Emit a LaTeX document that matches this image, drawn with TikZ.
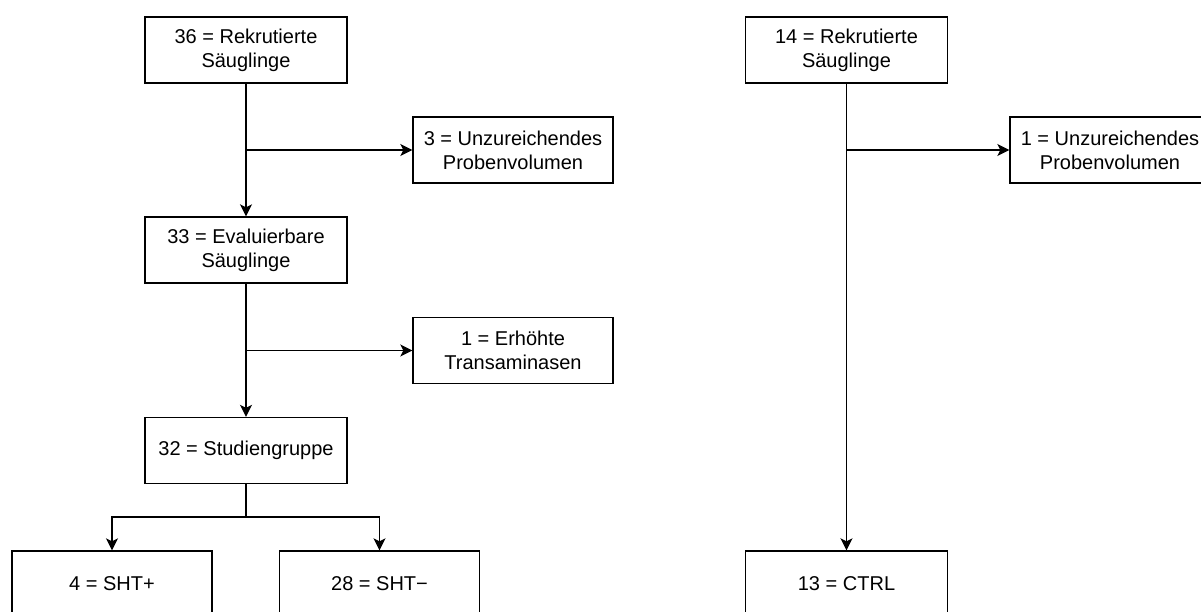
\documentclass[tikz,border=0pt]{standalone}
\usepackage{fontspec}
\setmainfont{Liberation Sans}
\usetikzlibrary{arrows.meta, positioning}
\tikzstyle{line} = [draw, line width=1.4pt, -{Stealth[length=12pt,width=12pt,inset=3pt]}]
\tikzstyle{link} = [draw, line width=1.4pt]
\tikzstyle{block} = [rectangle, draw, line width=1.4pt, text centered, align=center, minimum width=202pt, minimum height=66pt, inner sep=0pt, font=\fontsize{20}{24}\selectfont]

\begin{document}
\begin{tikzpicture}[x=1pt, y=-1pt]
\useasboundingbox (0,0) rectangle (1201,611);
% Studiengruppe
\node [block] (rekrut) at (246,50) {36 = Rekrutierte\\Säuglinge};
\node [block, minimum width=200pt] (probe) at (513,150) {3 = Unzureichendes\\Probenvolumen};
\node [block] (eval) at (246,250) {33 = Evaluierbare\\Säuglinge};
\node [block, minimum width=200pt] (trans) at (513,350.5) {1 = Erhöhte\\Transaminasen};
\node [block] (studie) at (246,450.5) {32 = Studiengruppe};
\node [block, minimum width=200pt] (shtpos) at (112,584) {4 = SHT+};
\node [block, minimum width=200pt] (shtneg) at (379.5,584) {28 = SHT−};
\coordinate (split1) at (246,150);
\coordinate (split2) at (246,350.5);
\coordinate (fork) at (246,517);
\path [line] (rekrut) -- (eval);
\path [line] (split1) -- (probe);
\path [line] (eval) -- (studie);
\path [line] (split2) -- (trans);
\path [link] (studie) -- (fork);
\path [line] (fork) -| (shtpos);
\path [line] (fork) -| (shtneg);
% Kontrollgruppe
\node [block] (rekrutctrl) at (846.5,50) {14 = Rekrutierte\\Säuglinge};
\node [block, minimum width=200pt] (probectrl) at (1110,150) {1 = Unzureichendes\\Probenvolumen};
\node [block] (ctrl) at (846.5,584) {13 = CTRL};
\coordinate (split3) at (846.5,150);
\path [line] (rekrutctrl) -- (ctrl);
\path [line] (split3) -- (probectrl);
\end{tikzpicture}
\end{document}
